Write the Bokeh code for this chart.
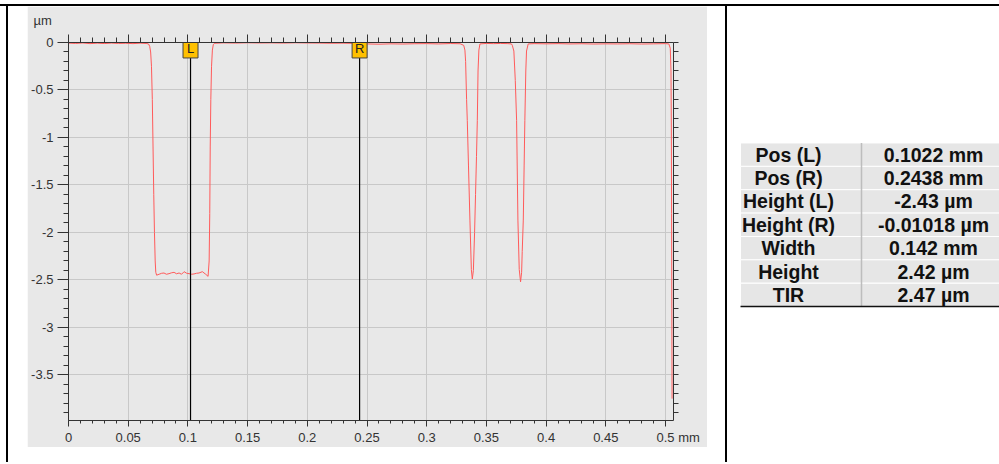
from bokeh.plotting import figure
from bokeh.models import Range1d, LinearAxis, FixedTicker, Div, Spacer, CustomLabelingPolicy
from bokeh.layouts import row, column
from bokeh.core.properties import value
from bokeh.embed import file_html
from bokeh.resources import INLINE

# ---------------- data ----------------
profile_x = [
    0.000, 0.006, 0.012, 0.018, 0.024, 0.030, 0.036, 0.042, 0.048, 0.054, 0.060, 0.065, 0.0670,
    0.0680, 0.0688, 0.0695, 0.0702, 0.0708, 0.0714, 0.0720, 0.0726, 0.0731, 0.0738,
    0.0759, 0.0780, 0.0800, 0.0820, 0.0842, 0.0862, 0.0884, 0.0905, 0.0926, 0.0947, 0.0968,
    0.0990, 0.1010, 0.1030, 0.1051, 0.1072, 0.1093, 0.1121, 0.1149, 0.1169,
    0.1178, 0.1183, 0.1187, 0.1192, 0.1198, 0.1205, 0.1213, 0.1225,
    0.130, 0.140, 0.150, 0.160, 0.170, 0.180, 0.190, 0.200, 0.210, 0.220, 0.230, 0.240,
    0.250, 0.260, 0.270, 0.280, 0.290, 0.300, 0.310, 0.320, 0.328,
    0.3310, 0.3320, 0.3326, 0.3334, 0.3340, 0.3350, 0.3362, 0.3374, 0.3382, 0.3391, 0.3401,
    0.3409, 0.3417, 0.3424, 0.3430, 0.3437, 0.3446,
    0.350, 0.356, 0.362, 0.368, 0.3710,
    0.3717, 0.3730, 0.3742, 0.3753, 0.3764, 0.3775, 0.3786, 0.3795, 0.3800, 0.3809, 0.3816,
    0.3822, 0.3830, 0.3836, 0.3850,
    0.390, 0.400, 0.410, 0.420, 0.430, 0.440, 0.450, 0.460, 0.470, 0.480, 0.490, 0.500, 0.5028,
    0.5040, 0.5046, 0.5049, 0.5051, 0.5053, 0.5055,
]
profile_y = [
    -0.006, -0.010, -0.005, -0.012, -0.007, -0.011, -0.006, -0.010, -0.008, -0.012, -0.007, -0.010, -0.015,
    -0.04, -0.10, -0.25, -0.60, -1.10, -1.60, -2.00, -2.30, -2.42, -2.45,
    -2.44, -2.43, -2.427, -2.44, -2.434, -2.425, -2.42, -2.435, -2.427, -2.44, -2.413,
    -2.43, -2.434, -2.44, -2.437, -2.43, -2.427, -2.413, -2.44, -2.462,
    -2.30, -1.80, -1.10, -0.60, -0.25, -0.08, -0.02, -0.008,
    -0.004, -0.006, -0.003, -0.005, -0.004, -0.006, -0.003, -0.005, -0.006, -0.008, -0.007, -0.010,
    -0.015, -0.018, -0.014, -0.016, -0.013, -0.012, -0.015, -0.011, -0.013,
    -0.03, -0.08, -0.20, -0.60, -0.82, -1.30, -1.87, -2.39, -2.49, -2.40, -2.00,
    -1.60, -1.20, -0.82, -0.30, -0.08, -0.015,
    -0.010, -0.012, -0.010, -0.012, -0.015,
    -0.03, -0.09, -0.40, -0.82, -1.87, -2.39, -2.52, -2.42, -2.20, -1.87, -1.30,
    -0.82, -0.30, -0.09, -0.015,
    -0.012, -0.014, -0.012, -0.015, -0.013, -0.016, -0.014, -0.015, -0.013, -0.016, -0.014, -0.012, -0.015,
    -0.06, -0.30, -0.90, -1.80, -2.80, -3.75,
]
cursor_names = ["L", "R"]
cursor_pos = [0.1022, 0.2438]

x_ticks = [0, 0.05, 0.1, 0.15, 0.2, 0.25, 0.3, 0.35, 0.4, 0.45, 0.5]
x_tick_labels = ["0", "0.05", "0.1", "0.15", "0.2", "0.25", "0.3", "0.35", "0.4", "0.45", "0.5 mm"]
y_ticks = [0, -0.5, -1, -1.5, -2, -2.5, -3, -3.5]
y_tick_labels = ["0", "-0.5", "-1", "-1.5", "-2", "-2.5", "-3", "-3.5"]
y_unit = "µm"

table_labels = ["Pos (L)", "Pos (R)", "Height (L)", "Height (R)", "Width", "Height", "TIR"]
table_values = ["0.1022 mm", "0.2438 mm", "-2.43 µm", "-0.01018 µm", "0.142 mm", "2.42 µm", "2.47 µm"]

# ---------------- styles ----------------
FONT = "Liberation Sans"
INK = "#333333"
PANEL = "#e8e8e8"
GRID = "#c8c8c8"
X_MAX = 0.5067
Y_MIN = -3.98
CH_W, CH_H = 680, 441
B_LEFT, B_RIGHT, B_TOP, B_BOTTOM = 41, 34, 36, 25

x_minor = [round(i * 0.01, 2) for i in range(51)]
y_minor = [round(-i * 0.1, 1) for i in range(40)]

no_labels = CustomLabelingPolicy(code="return new Set()")

# ---------------- chart ----------------
p = figure(width=CH_W, height=CH_H, output_backend="svg", toolbar_location=None,
           x_range=Range1d(0, X_MAX), y_range=Range1d(Y_MIN, 0),
           min_border_left=B_LEFT, min_border_right=B_RIGHT,
           min_border_top=B_TOP, min_border_bottom=B_BOTTOM,
           border_fill_color=PANEL, background_fill_color=PANEL, outline_line_color=None,
           title=y_unit)
p.title.align = "left"
p.title.vertical_align = "top"
p.title.offset = -35
p.title.standoff = 10
p.title.text_font = FONT
p.title.text_font_size = "13px"
p.title.text_font_style = "normal"
p.title.text_color = INK

xt = FixedTicker(ticks=x_ticks, minor_ticks=x_minor)
yt = FixedTicker(ticks=y_ticks, minor_ticks=y_minor)

# "0.5 mm": keep the number centred on its tick
pad = "\u00a0" * 7
labels_x = {t: (pad + s if s.endswith("mm") else s) for t, s in zip(x_ticks, x_tick_labels)}

common = dict(axis_line_color=INK, major_tick_line_color=INK, minor_tick_line_color=INK,
              major_tick_in=0, minor_tick_in=0, axis_line_width=1)

xa = p.xaxis[0]
xa.ticker = xt
xa.major_label_overrides = labels_x
xa.major_tick_out = 6
xa.minor_tick_out = 3
xa.major_label_standoff = 3
xa.major_label_text_font = FONT
xa.major_label_text_font_size = "13px"
xa.major_label_text_color = INK
for k, v in common.items():
    setattr(xa, k, v)

ya = p.yaxis[0]
ya.ticker = yt
ya.major_label_overrides = dict(zip(y_ticks, y_tick_labels))
ya.major_tick_out = 11
ya.minor_tick_out = 5
ya.major_label_standoff = 4
ya.major_label_text_font = FONT
ya.major_label_text_font_size = "13px"
ya.major_label_text_color = INK
for k, v in common.items():
    setattr(ya, k, v)

# tick-only axes (top and right): labels suppressed entirely
top_axis = LinearAxis(ticker=xt, major_label_policy=no_labels, major_label_standoff=0,
                      major_label_text_font_size="0px",
                      major_tick_out=8, minor_tick_out=5, **common)
p.add_layout(top_axis, "above")
right_axis = LinearAxis(ticker=FixedTicker(ticks=y_minor, minor_ticks=[]),
                        major_label_policy=no_labels, major_label_standoff=0,
                        major_label_text_font_size="0px",
                        major_tick_out=5, minor_tick_out=0, **common)
p.add_layout(right_axis, "right")

p.xgrid[0].ticker = xt
p.ygrid[0].ticker = yt
p.grid.grid_line_color = GRID
p.grid.grid_line_width = 1

p.line(profile_x, profile_y, line_color="#ff5a5a", line_width=1)

# cursors
p.segment(x0=cursor_pos, y0=[Y_MIN] * len(cursor_pos), x1=cursor_pos, y1=[0] * len(cursor_pos),
          line_color="black", line_width=1.2)
px_per_unit = (CH_H - B_TOP - B_BOTTOM) / (0 - Y_MIN)
marker_y = [-6.5 / px_per_unit] * len(cursor_pos)
p.rect(x=cursor_pos, y=marker_y, width=15, height=18, width_units="screen", height_units="screen",
       fill_color="#FFC000", line_color="#444444", line_width=1)
p.text(x=cursor_pos, y=marker_y, text=cursor_names, text_align="center", text_baseline="middle",
       text_font=value(FONT), text_font_size="13px", text_color="#222222")

# ---------------- table ----------------
TBL_TOP, ROW_H = 143, 23.5
TBL_LEFT, COL_SPLIT, TBL_RIGHT = 740, 861, 1005
LABEL_CX, VALUE_CX = 788, 933
PAGE_X0, PAGE_Y0 = 727, 6          # where the table canvas sits on the page
T_W = 272

t = figure(width=T_W, height=CH_H, output_backend="svg", toolbar_location=None,
           x_axis_type=None, y_axis_type=None,
           x_range=Range1d(PAGE_X0, PAGE_X0 + T_W),
           y_range=Range1d(PAGE_Y0 + CH_H - B_BOTTOM, PAGE_Y0 + B_TOP),
           min_border_left=0, min_border_right=0, min_border_top=B_TOP, min_border_bottom=B_BOTTOM,
           border_fill_color="white", background_fill_color="white", outline_line_color=None)
t.grid.visible = False
n = len(table_labels)
row_y = [TBL_TOP + (i + 0.5) * ROW_H for i in range(n)]
t.rect(x=[(TBL_LEFT + COL_SPLIT) / 2] * n, y=row_y, width=COL_SPLIT - TBL_LEFT, height=ROW_H,
       fill_color="#e6e6e6", line_color="white", line_width=1)
t.rect(x=[(COL_SPLIT + TBL_RIGHT) / 2] * n, y=row_y, width=TBL_RIGHT - COL_SPLIT, height=ROW_H,
       fill_color="#e6e6e6", line_color="white", line_width=1)
t.segment(x0=[COL_SPLIT], y0=[TBL_TOP], x1=[COL_SPLIT], y1=[TBL_TOP + n * ROW_H],
          line_color="#bdbdbd", line_width=1.5)
t.segment(x0=[TBL_LEFT], y0=[TBL_TOP + n * ROW_H], x1=[TBL_RIGHT], y1=[TBL_TOP + n * ROW_H],
          line_color="#111111", line_width=1.5)
t.text(x=[LABEL_CX] * n, y=row_y, text=table_labels, text_align="center", text_baseline="middle",
       text_font=value(FONT), text_font_size="19.5px", text_font_style="bold", text_color="#111111")
t.text(x=[VALUE_CX] * n, y=row_y, text=table_values, text_align="center", text_baseline="middle",
       text_font=value(FONT), text_font_size="19.5px", text_font_style="bold", text_color="#111111")

# ---------------- page frame (cell borders) ----------------
def black(w, h):
    return Div(text="", width=w, height=h, margin=0, styles={"background-color": "black"})

def white(w, h):
    return Spacer(width=w, height=h, margin=0)

ROW_H_PAGE = 456
layout = column(
    white(999, 4),
    black(999, 2),
    row(white(6, ROW_H_PAGE), black(2, ROW_H_PAGE), white(19, ROW_H_PAGE),
        p,
        white(18, ROW_H_PAGE), black(2, ROW_H_PAGE),
        t),
)

open("out.html", "w").write(file_html(layout, INLINE))
